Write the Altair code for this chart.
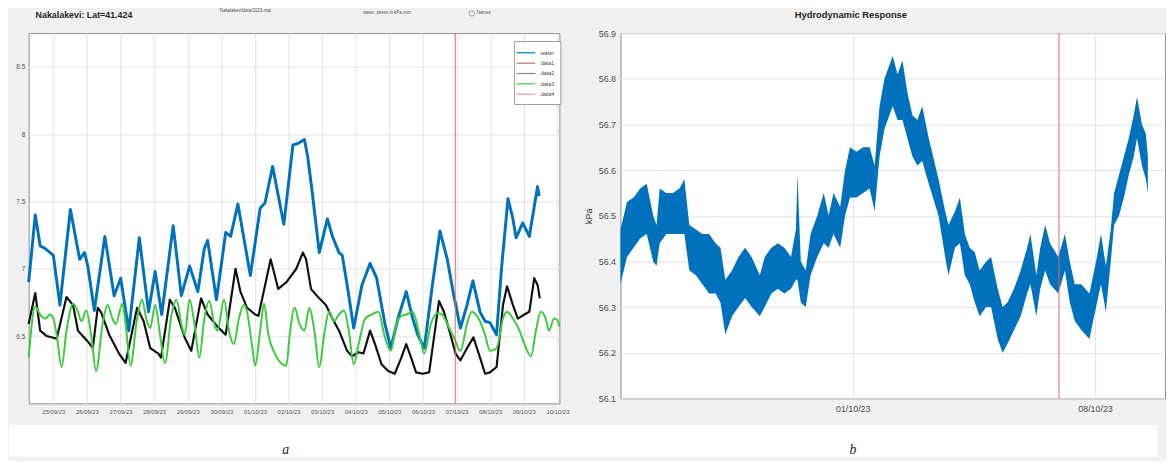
import altair as alt
import pandas as pd

# ---------------- data (hours since 24/09/2023 00:00) ----------------
blue_h = [6.4, 11.1, 14.6, 18.2, 21.7, 24.0, 28.7, 36.2, 42.8, 46.3, 48.6, 53.3, 60.8, 67.4, 72.1, 77.9,
          85.4, 92.0, 96.7, 101.4, 109.6, 115.4, 121.3, 127.2, 131.8, 134.2, 140.5, 147.1, 150.6, 155.8,
          164.7, 171.7, 175.2, 180.6, 188.6, 195.1, 198.6, 203.3, 205.7, 209.2, 213.9, 219.7, 223.3, 228.0,
          230.3, 233.8, 238.5, 244.4, 250.2, 254.9, 260.8, 265.0, 270.1, 276.0, 280.7, 284.2, 288.9, 294.7,
          300.1, 305.3, 310.0, 314.7, 319.4, 323.6, 328.7, 332.3, 335.8, 340.5, 344.0, 348.7, 352.2, 354.5,
          359.2, 363.9, 367.4, 369.8, 370.9]
blue_v = [6.90, 7.40, 7.17, 7.15, 7.12, 7.10, 6.73, 7.44, 7.07, 7.12, 7.02, 6.69, 7.24, 6.80, 6.93, 6.54,
          7.23, 6.68, 6.98, 6.66, 7.32, 6.80, 7.02, 6.83, 7.15, 7.21, 6.77, 7.27, 7.24, 7.48,
          6.95, 7.45, 7.49, 7.76, 7.33, 7.92, 7.93, 7.96, 7.83, 7.54, 7.12, 7.37, 7.24, 7.12,
          7.10, 6.88, 6.56, 6.88, 7.04, 6.93, 6.59, 6.41, 6.63, 6.83, 6.63, 6.51, 6.41, 6.88,
          7.28, 7.07, 6.80, 6.56, 6.73, 6.91, 6.68, 6.61, 6.60, 6.51, 7.00, 7.52, 7.37, 7.23,
          7.34, 7.24, 7.46, 7.61, 7.54]

black_h = [6.4, 11.1, 14.6, 19.3, 26.4, 33.4, 38.1, 41.6, 48.6, 52.2, 55.7, 58.0, 63.9, 70.9, 75.6,
           83.8, 88.5, 93.2, 99.0, 100.9, 107.2, 110.8, 117.8, 122.5, 129.5, 134.2, 141.2, 147.1, 154.1,
           157.6, 162.3, 168.2, 170.5, 179.2, 184.6, 190.5, 197.5, 202.2, 204.5, 208.0, 213.9, 218.6,
           223.3, 228.0, 233.8, 237.3, 242.0, 245.5, 250.2, 253.7, 258.4, 263.1, 267.8, 272.5, 276.0,
           279.5, 283.0, 287.7, 292.4, 299.4, 302.9, 307.6, 311.2, 314.7, 319.4, 324.0, 328.7, 332.3,
           335.8, 340.5, 345.1, 348.0, 352.2, 355.7, 360.4, 363.9, 367.4, 369.8, 371.4]
black_v = [6.59, 6.82, 6.54, 6.50, 6.48, 6.79, 6.73, 6.54, 6.46, 6.41, 6.71, 6.68, 6.51, 6.37, 6.30,
           6.71, 6.61, 6.41, 6.37, 6.34, 6.77, 6.71, 6.49, 6.39, 6.78, 6.66, 6.57, 6.51, 7.00,
           6.83, 6.71, 6.66, 6.65, 7.07, 6.85, 6.90, 7.00, 7.12, 7.07, 6.85, 6.78, 6.73,
           6.63, 6.54, 6.39, 6.35, 6.38, 6.37, 6.54, 6.44, 6.29, 6.24, 6.22, 6.34, 6.44,
           6.34, 6.23, 6.22, 6.23, 6.76, 6.68, 6.51, 6.37, 6.32, 6.41, 6.49, 6.34, 6.22,
           6.23, 6.27, 6.73, 6.87, 6.73, 6.63, 6.66, 6.68, 6.93, 6.88, 6.78]

green_h = [6.4, 11.1, 14.6, 18.2, 21.7, 24.0, 26.4, 29.9, 33.4, 38.1, 41.6, 44.0, 47.5, 51.0, 54.5,
           59.2, 62.7, 66.2, 68.6, 73.3, 75.6, 79.1, 83.8, 87.3, 90.8, 93.2, 96.7, 100.2, 103.7, 108.4,
           111.9, 115.4, 117.8, 121.3, 124.8, 128.3, 131.8, 135.4, 138.9, 141.2, 145.9, 149.4, 152.9,
           156.5, 160.0, 162.3, 165.8, 168.2, 171.7, 174.5, 177.6, 182.2, 190.4, 192.8, 196.3, 199.8,
           203.3, 206.8, 210.4, 213.9, 217.4, 220.9, 224.4, 228.0, 231.5, 235.0, 238.5, 242.0, 246.7,
           251.4, 256.1, 260.8, 265.0, 269.0, 272.5, 276.0, 280.7, 285.4, 288.9, 293.6, 298.3, 301.8,
           305.3, 310.0, 314.7, 319.4, 322.9, 327.6, 332.3, 335.8, 340.5, 345.1, 348.0, 352.2, 356.9,
           360.4, 365.1, 368.6, 372.1, 375.6, 378.0, 381.5, 383.8, 385.5]
green_v = [6.34, 6.72, 6.66, 6.63, 6.66, 6.63, 6.51, 6.27, 6.54, 6.74, 6.68, 6.61, 6.69, 6.51, 6.24,
           6.59, 6.73, 6.63, 6.59, 6.74, 6.59, 6.28, 6.63, 6.77, 6.61, 6.56, 6.73, 6.51, 6.30, 6.66,
           6.77, 6.59, 6.51, 6.77, 6.59, 6.34, 6.63, 6.76, 6.59, 6.54, 6.77, 6.54, 6.44,
           6.63, 6.73, 6.68, 6.44, 6.28, 6.54, 6.74, 6.51, 6.37, 6.28, 6.51, 6.71, 6.59,
           6.54, 6.71, 6.54, 6.27, 6.51, 6.68, 6.61, 6.66, 6.69, 6.54, 6.29, 6.44, 6.63,
           6.66, 6.68, 6.49, 6.39, 6.59, 6.65, 6.66, 6.68, 6.51, 6.37, 6.59, 6.67, 6.66,
           6.59, 6.49, 6.39, 6.59, 6.68, 6.63, 6.51, 6.39, 6.41, 6.63, 6.68, 6.63, 6.54,
           6.44, 6.35, 6.54, 6.68, 6.63, 6.54, 6.63, 6.62, 6.57]

hyd_h = [7.0, 11.5, 16.1, 20.6, 25.2, 29.7, 32.0, 34.2, 38.8, 43.3, 47.9, 51.3, 54.7, 59.3, 63.8,
         68.4, 72.9, 76.3, 79.7, 84.3, 88.8, 93.4, 97.9, 103.6, 107.0, 111.6, 116.1, 120.6, 125.2, 128.6,
         129.7, 132.0, 135.4, 138.8, 143.4, 147.9, 151.3, 154.7, 159.3, 162.7, 166.1, 170.6, 175.2, 179.7,
         183.2, 186.6, 190.0, 195.7, 199.1, 202.5, 205.9, 209.4, 212.8, 216.2, 220.7, 227.5, 232.1, 234.4,
         238.9, 242.3, 245.7, 249.1, 252.6, 256.0, 260.5, 263.9, 268.5, 271.9, 275.3, 279.8, 284.4, 288.9,
         291.2, 295.3, 298.0, 301.4, 304.8, 310.5, 315.1, 318.5, 321.9, 326.4, 332.1, 336.7, 340.1, 343.5,
         346.9, 349.2, 352.6, 356.0, 359.4, 362.8, 365.1, 368.5, 371.2, 372.6]
hyd_hi = [56.47, 56.53, 56.54, 56.56, 56.57, 56.50, 56.48, 56.56, 56.55, 56.55, 56.56, 56.58, 56.48, 56.47,
          56.46, 56.46, 56.44, 56.43, 56.36, 56.38, 56.41, 56.43, 56.41, 56.37, 56.41, 56.43, 56.44, 56.43,
          56.41, 56.47, 56.59, 56.40, 56.38, 56.46, 56.50, 56.55, 56.50, 56.55, 56.52, 56.60, 56.65, 56.64,
          56.65, 56.65, 56.61, 56.74, 56.80, 56.85, 56.81, 56.84, 56.77, 56.72, 56.71, 56.74, 56.67, 56.58,
          56.51, 56.48, 56.51, 56.54, 56.46, 56.43, 56.42, 56.38, 56.40, 56.41, 56.34, 56.30, 56.31, 56.34,
          56.38, 56.43, 56.46, 56.37, 56.43, 56.48, 56.44, 56.41, 56.46, 56.40, 56.35, 56.35, 56.33, 56.40,
          56.46, 56.39, 56.47, 56.55, 56.59, 56.63, 56.67, 56.72, 56.76, 56.70, 56.68, 56.63]
hyd_lo = [56.35, 56.41, 56.43, 56.45, 56.46, 56.40, 56.39, 56.44, 56.46, 56.46, 56.46, 56.46, 56.38, 56.37,
          56.35, 56.33, 56.33, 56.31, 56.24, 56.28, 56.30, 56.32, 56.30, 56.28, 56.30, 56.33, 56.34, 56.33,
          56.34, 56.36, 56.36, 56.31, 56.30, 56.37, 56.41, 56.44, 56.43, 56.46, 56.43, 56.50, 56.54, 56.54,
          56.55, 56.56, 56.51, 56.63, 56.69, 56.74, 56.71, 56.71, 56.67, 56.63, 56.61, 56.62, 56.57, 56.50,
          56.41, 56.37, 56.43, 56.44, 56.37, 56.35, 56.31, 56.28, 56.30, 56.30, 56.23, 56.20, 56.22, 56.25,
          56.28, 56.33, 56.35, 56.28, 56.34, 56.38, 56.35, 56.33, 56.38, 56.31, 56.27, 56.25, 56.23, 56.30,
          56.35, 56.29, 56.40, 56.48, 56.50, 56.54, 56.59, 56.63, 56.67, 56.61, 56.58, 56.55]

marker_h = [311.0]  # red vertical marker, 06/10/23 23:00

series_names = ["water", "data1", "data2", "data3", "data4"]
series_colors = ["#0072BD", "#B5706A", "#8E7CA8", "#3CCB3C", "#F08FB0"]

left_days = [(9, d) for d in range(25, 31)] + [(10, d) for d in range(1, 11)]
right_days = [(10, 1), (10, 8)]
left_yticks = [6.5, 7, 7.5, 8, 8.5]
right_yticks = [56.1, 56.2, 56.3, 56.4, 56.5, 56.6, 56.7, 56.8, 56.9]

# ---------------- helpers ----------------
T0 = pd.Timestamp("2023-09-24 00:00")


def ts(hours):
    return [(T0 + pd.Timedelta(hours=h)).strftime("%Y-%m-%dT%H:%M:%S") for h in hours]


def dt(h):
    t = T0 + pd.Timedelta(hours=h)
    return alt.DateTime(year=t.year, month=t.month, date=t.day, hours=t.hour, minutes=t.minute)


FONT = "Liberation Sans, Arial, sans-serif"
GRID = "#e2e2e2"
one = pd.DataFrame({"k": [0]})

blue_df = pd.DataFrame({"time": ts(blue_h), "value": blue_v, "series": "water"})
black_df = pd.DataFrame({"time": ts(black_h), "value": black_v})
green_df = pd.DataFrame({"time": ts(green_h), "value": green_v, "series": "data3"})
hyd_df = pd.DataFrame({"time": ts(hyd_h), "lo": hyd_lo, "hi": hyd_hi})
mark_df = pd.DataFrame({"time": ts(marker_h)})

# ---------------- left panel ----------------
LW, LH = 539, 376
xl = alt.X("time:T",
           scale=alt.Scale(domain=[dt(6.4), dt(385.4)]),
           axis=alt.Axis(values=[alt.DateTime(year=2023, month=m, date=d) for m, d in left_days],
                         format="%d/%m/%y", labelFontSize=6, labelColor="#555555", labelPadding=5,
                         labelOverlap=False, labelFlush=False, ticks=False, domain=False,
                         gridColor=GRID, title=None, minExtent=20, maxExtent=20))
yl = alt.Y("value:Q",
           scale=alt.Scale(domain=[6.0, 8.75], nice=False, zero=False),
           axis=alt.Axis(values=left_yticks, format="~g", labelFontSize=6.5, labelColor="#555555",
                         labelPadding=4, ticks=False, domain=False, gridColor=GRID, title=None,
                         minExtent=20, maxExtent=20))
color = alt.Color("series:N",
                  scale=alt.Scale(domain=series_names, range=series_colors),
                  legend=alt.Legend(title=None, orient="none", legendX=493, legendY=8,
                                    fillColor="white", strokeColor="#9a9a9a", padding=6,
                                    labelFontSize=5.5, labelColor="#444444",
                                    symbolType="M-1.9,0L1.9,0", symbolSize=100,
                                    symbolStrokeWidth=1.2, rowPadding=0.5, labelOffset=9,
                                    labelLimit=40))

blue_line = alt.Chart(blue_df).mark_line(strokeWidth=3, strokeJoin="round").encode(x=xl, y=yl, color=color)
black_line = alt.Chart(black_df).mark_line(strokeWidth=2.2, color="#111111", strokeJoin="round").encode(x=xl, y=yl)
green_line = alt.Chart(green_df).mark_line(strokeWidth=2, interpolate="monotone").encode(x=xl, y=yl, color=color)
red_left = alt.Chart(mark_df).mark_rule(color="#E06666", strokeWidth=1).encode(x=xl)

t_title = alt.Chart(one).mark_text(text="Nakalakevi: Lat=41.424", fontSize=9, fontWeight="bold",
                                   align="left", baseline="middle", color="#262626").encode(
    x=alt.value(7), y=alt.value(-18))
t_file = alt.Chart(one).mark_text(text="Nakalakevi/data/2023.mat", fontSize=4.5, align="center",
                                  baseline="middle", color="#555555").encode(x=alt.value(220), y=alt.value(-22))
t_water = alt.Chart(one).mark_text(text="water ,stress in kPa.mcv", fontSize=4.5, align="center",
                                   baseline="middle", color="#555555").encode(x=alt.value(364), y=alt.value(-20))
t_radio = alt.Chart(one).mark_point(shape="circle", size=30, filled=False, color="#666666",
                                    strokeWidth=0.8).encode(x=alt.value(450), y=alt.value(-20))
t_names = alt.Chart(one).mark_text(text="Names", fontSize=4.5, align="left", baseline="middle",
                                   color="#555555").encode(x=alt.value(455), y=alt.value(-20))

left = alt.layer(blue_line, black_line, green_line, red_left,
                 t_title, t_file, t_water, t_radio, t_names).properties(width=LW, height=LH)

# ---------------- right panel ----------------
RW, RH = 553, 371
xr = alt.X("time:T",
           scale=alt.Scale(domain=[dt(7.0), dt(384.5)]),
           axis=alt.Axis(values=[alt.DateTime(year=2023, month=m, date=d) for m, d in right_days],
                         format="%d/%m/%y", labelFontSize=9, labelColor="#4d4d4d", labelPadding=6,
                         labelFlush=False, ticks=False, domain=False, gridColor=GRID, title=None,
                         minExtent=20))
yr = alt.Y("lo:Q",
           scale=alt.Scale(domain=[56.1, 56.9], nice=False, zero=False),
           axis=alt.Axis(values=right_yticks, format=".1f", labelFontSize=9, labelColor="#4d4d4d",
                         labelPadding=5, ticks=False, domain=False, gridColor=GRID,
                         title="kPa", titleFontSize=9, titleFontWeight="normal", titleColor="#333333",
                         titlePadding=3, minExtent=24, maxExtent=24))

band = alt.Chart(hyd_df).mark_area(color="#0072BD", opacity=1, strokeJoin="round").encode(
    x=xr, y=yr, y2="hi:Q")
red_right = alt.Chart(mark_df).mark_rule(color="#E06666", strokeWidth=1).encode(x=xr)
r_title = alt.Chart(one).mark_text(text="Hydrodynamic Response", fontSize=9.5, fontWeight="bold",
                                   align="center", baseline="middle", color="#262626").encode(
    x=alt.value(234), y=alt.value(-18))

right = alt.layer(band, red_right, r_title).properties(width=RW, height=RH)

top = alt.hconcat(left, right, spacing=14)

# ---------------- bottom captions ----------------
strip = alt.Chart(one).mark_rect(color="white").encode(
    x=alt.value(-20), x2=alt.value(1146), y=alt.value(0), y2=alt.value(32))
cap_a = alt.Chart(one).mark_text(text="a", fontSize=14, fontStyle="italic", font="Liberation Serif",
                                 baseline="middle", color="#222222").encode(x=alt.value(261), y=alt.value(25))
cap_b = alt.Chart(one).mark_text(text="b", fontSize=14, fontStyle="italic", font="Liberation Serif",
                                 baseline="middle", color="#222222").encode(x=alt.value(837), y=alt.value(25))
bottom = alt.layer(strip, cap_a, cap_b).properties(
    width=1146, height=32, view=alt.ViewBackground(fill="white", stroke="transparent"))

chart = alt.vconcat(top, bottom, spacing=0).configure(
    font=FONT, background="#f0f0f0", padding={"top": -4, "left": 0, "right": 0, "bottom": 0}
).configure_view(fill="white", stroke="#8c8c8c", strokeWidth=1)

chart.save("out.html", embed_options={"renderer": "svg", "actions": False})
